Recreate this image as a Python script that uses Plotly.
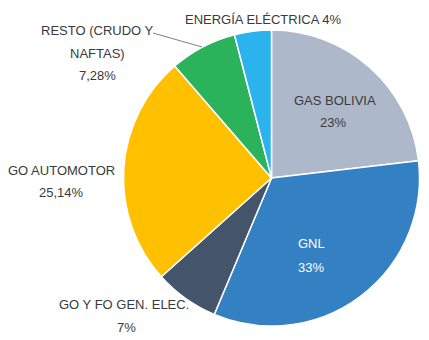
import plotly.graph_objects as go

categories = ["GAS BOLIVIA", "GNL", "GO Y FO GEN. ELEC.", "GO AUTOMOTOR", "RESTO (CRUDO Y NAFTAS)", "ENERGÍA ELÉCTRICA"]
values = [23, 33, 7, 25.14, 7.28, 4]
pct_labels = ["23%", "33%", "7%", "25,14%", "7,28%", "4%"]
colors = ["#adb9ca", "#3380c2", "#44546a", "#ffc000", "#2bb35b", "#2ab3ec"]

W, H = 429, 340
fig = go.Figure(go.Pie(
    labels=categories, values=values, sort=False, direction="clockwise", rotation=0,
    marker=dict(colors=colors, line=dict(color="white", width=1.5)),
    textinfo="none", hoverinfo="label+percent", showlegend=False,
    domain=dict(x=[123 / W, 420 / W], y=[1 - 326 / H, 1 - 30 / H]),
))

font = dict(family="Liberation Sans, Arial, sans-serif", size=13, color="#3a3a3a")

def ann(x, y, text, color=None):
    f = dict(font)
    if color:
        f["color"] = color
    fig.add_annotation(x=x / W, y=1 - y / H, xref="paper", yref="paper", text=text,
                       showarrow=False, font=f, xanchor="center", yanchor="middle")

ann(335, 100, categories[0])
ann(333, 122, pct_labels[0])
ann(311, 243, categories[1], "white")
ann(311, 267, pct_labels[1], "white")
ann(124, 304, categories[2])
ann(126, 327, pct_labels[2])
ann(62, 170, categories[3])
ann(62, 192, pct_labels[3])
ann(97, 30, "RESTO (CRUDO Y")
ann(97, 53, "NAFTAS)")
ann(97, 75, pct_labels[4])
ann(263, 19, categories[5] + " " + pct_labels[5])

fig.add_shape(type="line", xref="paper", yref="paper",
              x0=153 / W, y0=1 - 33 / H, x1=202 / W, y1=1 - 47 / H,
              line=dict(color="#7f7f7f", width=1))

fig.update_layout(width=W, height=H, margin=dict(l=0, r=0, t=0, b=0),
                  paper_bgcolor="white", plot_bgcolor="white")
fig.write_html("out.html", config={"displayModeBar": False},
               post_script="document.body.style.margin='0';document.body.style.overflow='hidden';")
